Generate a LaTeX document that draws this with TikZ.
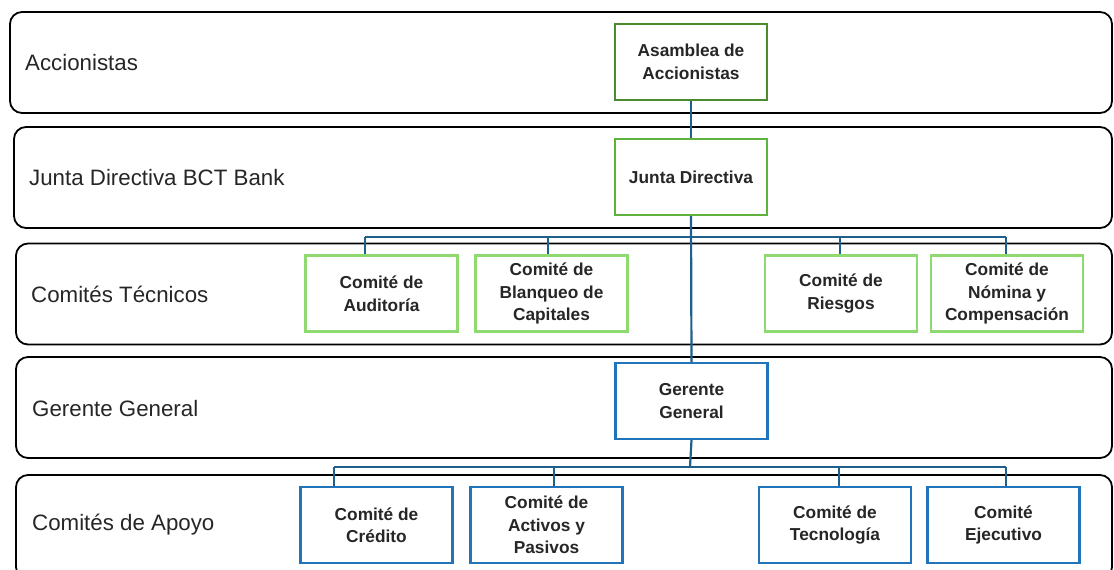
\documentclass[tikz,border=0pt]{standalone}
\usepackage{fontspec}
\setmainfont{Liberation Sans}
\begin{document}
\begin{tikzpicture}[x=1pt,y=-1pt,
  lane/.style={draw=black, line width=1.8pt, rounded corners=12pt, minimum height=101pt, inner sep=0pt},
  lanelabel/.style={anchor=west, font=\fontsize{22.3}{25}\selectfont, text=black!85, inner sep=0pt},
  org/.style={draw, line width=2.4pt, fill=white, minimum width=152pt, minimum height=76pt, align=center,
     font=\fontsize{17.3}{22.5}\selectfont\bfseries, text=black!85, inner sep=2pt},
  gA/.style={org, draw=greenA},
  gB/.style={org, draw=greenB},
  gC/.style={org, draw=greenC},
  bl/.style={org, draw=blueB},
  conn/.style={draw=connC, line width=2.2pt}
]
\definecolor{greenA}{HTML}{4C8A2E}
\definecolor{greenB}{HTML}{5DB33C}
\definecolor{greenC}{HTML}{8FD971}
\definecolor{blueB}{HTML}{1F74BA}
\definecolor{connC}{HTML}{1F5F8B}
\clip (0,0) rectangle (1114,570);
\useasboundingbox (0,0) rectangle (1114,570);

% lanes
\node[lane, minimum width=1102pt] (L1) at (561,62.5) {};
\node[lane, minimum width=1098pt] (L2) at (563,177.5) {};
\node[lane, minimum width=1096pt] (L3) at (564,294) {};
\node[lane, minimum width=1096pt] (L4) at (564,407.5) {};
\node[lane, minimum width=1096pt, minimum height=104pt] (L5) at (564,527) {};

\node[lanelabel] (t1) at (25,63) {Accionistas};
\node[lanelabel] (t2) at (29,178) {Junta Directiva BCT Bank};
\node[lanelabel] (t3) at (31,294) {Comités Técnicos};
\node[lanelabel] (t4) at (32,409) {Gerente General};
\node[lanelabel] (t5) at (32,525) {Comités de Apoyo};

% bus coordinates
\coordinate (busT) at (690,237);
\coordinate (busB) at (690,467);
\coordinate (tA) at (365,237);
\coordinate (tB) at (548,237);
\coordinate (tC) at (840,237);
\coordinate (tD) at (1006,237);
\coordinate (bA) at (334,467);
\coordinate (bB) at (554,467);
\coordinate (bC) at (839,467);
\coordinate (bD) at (1006,467);

% boxes
\node[gA] (asam) at (691,62) {Asamblea de\\Accionistas};
\node[gB] (junta) at (691,177) {Junta Directiva};
\node[gC] (aud) at (381.5,293.5) {Comité de\\Auditoría};
\node[gC] (blq) at (551.5,293.5) {Comité de\\Blanqueo de\\Capitales};
\node[gC] (rsg) at (841,293.5) {Comité de\\Riesgos};
\node[gC] (nom) at (1007,293.5) {Comité de\\Nómina y\\Compensación};
\node[bl] (ger) at (691.5,401) {Gerente\\General};
\node[bl] (cre) at (376.5,525) {Comité de\\Crédito};
\node[bl] (act) at (546.5,525) {Comité de\\Activos y\\Pasivos};
\node[bl] (tec) at (835,525) {Comité de\\Tecnología};
\node[bl] (eje) at (1003.5,525) {Comité\\Ejecutivo};

% connectors
\draw[conn] (asam.south) -- (junta.north);
\draw[conn] (junta.south) -- (ger.north);
\draw[conn] (tA) -- (tD);
\draw[conn] (tA) -- (tA |- aud.north);
\draw[conn] (tB) -- (tB |- blq.north);
\draw[conn] (tC) -- (tC |- rsg.north);
\draw[conn] (tD) -- (tD |- nom.north);
\draw[conn] (ger.south) -- (busB);
\draw[conn] (bA) -- (bD);
\draw[conn] (bA) -- (bA |- cre.north);
\draw[conn] (bB) -- (bB |- act.north);
\draw[conn] (bC) -- (bC |- tec.north);
\draw[conn] (bD) -- (bD |- eje.north);
\end{tikzpicture}
\end{document}
